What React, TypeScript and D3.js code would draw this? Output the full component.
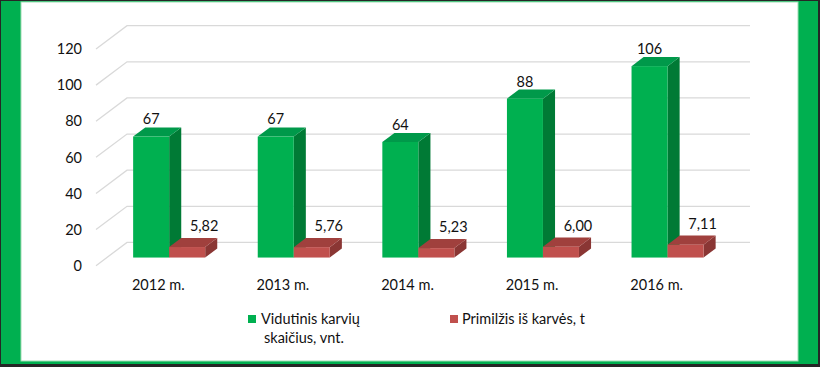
import React from 'react';
import * as d3 from 'd3';

const years = ['2012 m.', '2013 m.', '2014 m.', '2015 m.', '2016 m.'];
const cows = [67, 67, 64, 88, 106];
const milk = [5.82, 5.76, 5.23, 6.0, 7.11];
const yTicks = [0, 20, 40, 60, 80, 100, 120];
const seriesNames = ['Vidutinis karvių', 'Primilžis iš karvės, t'];

const W = 820;
const H = 367;
const FONT = 'Lato, "Open Sans", sans-serif';

// oblique 3D depth of the plot box (floor front -> back wall)
const DEPTH_X = 31;
const DEPTH_Y = -23.3;
const BAR_D0 = 0.35; // bar front plane
const BAR_D1 = 0.74; // bar back plane

const green = { front: '#00B050', top: '#00994A', side: '#007A35' };
const red = { front: '#C0504D', top: '#A0403D', side: '#8A3634' };

export default function App() {
  const x0 = d3.scaleBand<string>()
    .domain(years)
    .range([96, 719])
    .paddingInner(0.422)
    .paddingOuter(0.211);

  const x1 = d3.scaleBand<number>()
    .domain([0, 1])
    .range([0, x0.bandwidth()]);

  const y = d3.scaleLinear().domain([0, 120]).range([265.7, 49]);

  const proj = (x: number, v: number, d: number): [number, number] =>
    [x + DEPTH_X * d, y(v) - DEPTH_Y * -d];

  const pts = (a: [number, number][]) => a.map(p => p.join(',')).join(' ');

  const bar = (xl: number, w: number, v: number, c: typeof green, key: string) => {
    const fl = proj(xl, v, BAR_D0);
    const fr = proj(xl + w, v, BAR_D0);
    const bl = proj(xl, v, BAR_D1);
    const br = proj(xl + w, v, BAR_D1);
    const fb = proj(xl + w, 0, BAR_D0);
    const bb = proj(xl + w, 0, BAR_D1);
    const base = proj(xl, 0, BAR_D0);
    return (
      <g key={key}>
        <polygon points={pts([fr, br, bb, fb])} fill={c.side} />
        <polygon points={pts([fl, bl, br, fr])} fill={c.top} />
        <rect x={base[0]} y={fl[1]} width={w} height={base[1] - fl[1]} fill={c.front} />
      </g>
    );
  };

  const wallX0 = 96 + DEPTH_X;
  const wallX1 = 719 + DEPTH_X;

  return (
    <svg width={W} height={H} style={{ position: 'absolute', left: 0, top: 0 }} fontFamily={FONT}>
      <rect x={0} y={0} width={W} height={H} fill="#262626" />
      <rect x={1} y={1} width={817} height={363} fill="#00B050" />
      <rect x={21} y={2} width={777} height={359} fill="#fff" stroke="#9fdcb4" strokeWidth={1} />

      {/* gridlines: side wall diagonal + back wall */}
      {yTicks.map(t => (
        <g key={t}>
          <polyline
            points={pts([[96, y(t)], [wallX0, y(t) + DEPTH_Y], [wallX1, y(t) + DEPTH_Y]])}
            fill="none"
            stroke="#d9d9d9"
            strokeWidth={1.3}
          />
          <text x={82} y={y(t)} dy="0.36em" textAnchor="end" fontSize={14.5} fill="#111">
            {t}
          </text>
        </g>
      ))}

      {years.map((yr, i) => {
        const gx = x0(yr)!;
        const w = x1.bandwidth();
        const gTop = proj(gx + x1(0)!, cows[i], BAR_D1);
        const rTop = proj(gx + x1(1)!, milk[i], BAR_D1);
        return (
          <g key={yr}>
            {bar(gx + x1(0)!, w, cows[i], green, 'g')}
            {bar(gx + x1(1)!, w, milk[i], red, 'r')}
            <text x={gx + x1(0)! + BAR_D0 * DEPTH_X + w / 2} y={gTop[1] - 3} textAnchor="middle" fontSize={14.5} fill="#111">
              {cows[i]}
            </text>
            <text x={gx + x1(1)! + BAR_D0 * DEPTH_X + w / 2 + 17} y={rTop[1] - 7} textAnchor="middle" fontSize={14.5} fill="#111">
              {d3.format('.2f')(milk[i]).replace('.', ',')}
            </text>
            <text x={gx + x0.bandwidth() / 2} y={290} textAnchor="middle" fontSize={14.5} fill="#111">
              {yr}
            </text>
          </g>
        );
      })}

      {/* legend */}
      <rect x={248} y={315} width={8} height={8} fill={green.front} />
      <text x={261} y={324} fontSize={14.5} fill="#111">{seriesNames[0]}</text>
      <text x={264} y={343} fontSize={14.5} fill="#111">skaičius, vnt.</text>
      <rect x={450} y={315} width={8} height={8} fill={red.front} />
      <text x={462} y={324} fontSize={14.5} fill="#111">{seriesNames[1]}</text>
    </svg>
  );
}
